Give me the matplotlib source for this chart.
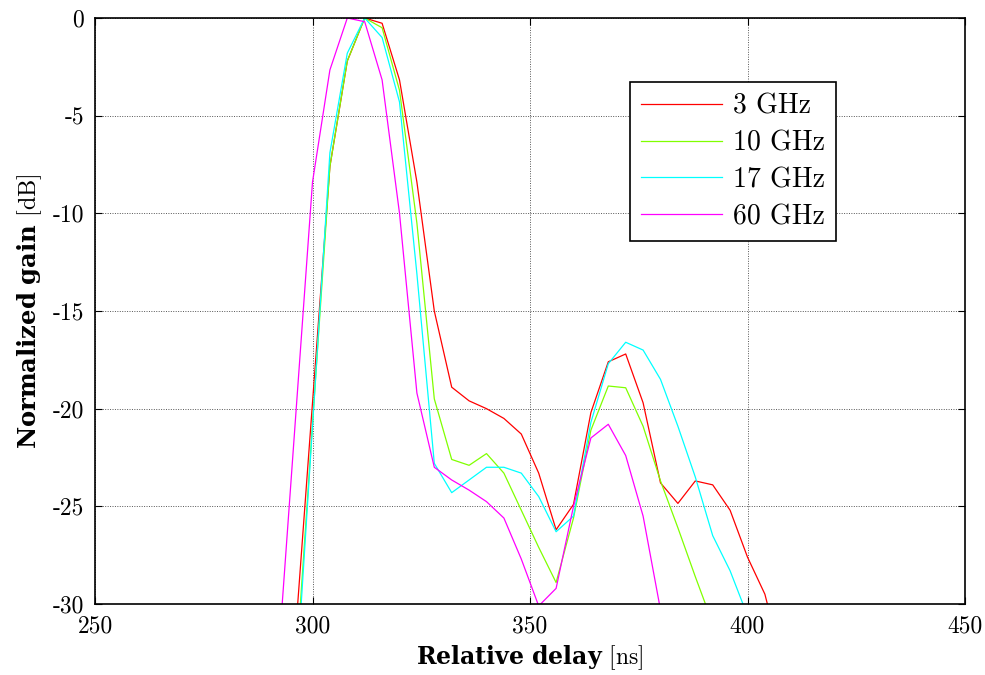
import numpy as np
import matplotlib
matplotlib.use("Agg")
import matplotlib.pyplot as plt

# relative delay [ns], one sample every 4 ns
delay = [292, 296, 300, 304, 308, 312, 316, 320, 324, 328, 332, 336, 340, 344, 348,
         352, 356, 360, 364, 368, 372, 376, 380, 384, 388, 392, 396, 400, 404, 408]

# normalized gain [dB]
gain_3 = [-44.0, -31.8, -19.7, -7.6, -2.2, 0.0, -0.27, -3.17, -8.4, -15.0, -18.9, -19.6, -20.0, -20.5, -21.3,
          -23.3, -26.2, -24.9, -20.2, -17.6, -17.2, -19.7, -23.8, -24.85, -23.7, -23.9, -25.2, -27.6, -29.5, -33.0]
gain_10 = [-47.0, -34.0, -20.8, -7.6, -2.2, 0.0, -0.5, -3.7, -10.5, -19.5, -22.6, -22.9, -22.3, -23.3, -25.2,
           -27.1, -28.9, -25.6, -21.1, -18.84, -18.93, -20.9, -23.7, -26.1, -28.6, -31.0, -34.0, -37.0, -40.0, -43.0]
gain_17 = [-49.0, -34.9, -20.9, -6.9, -1.8, 0.0, -1.0, -4.3, -13.1, -22.8, -24.3, -23.65, -23.0, -23.0, -23.3,
           -24.5, -26.3, -25.5, -20.7, -17.7, -16.6, -17.0, -18.5, -20.9, -23.5, -26.5, -28.3, -30.6, -33.0, -36.0]
gain_60 = [-33.2, -20.8, -8.4, -2.66, 0.0, -0.19, -3.17, -10.0, -19.2, -23.0, -23.65, -24.17, -24.76, -25.6, -27.7,
           -30.1, -29.2, -25.0, -21.5, -20.8, -22.4, -25.5, -30.3, -35.0, -40.0, -45.0, -50.0, -55.0, -60.0, -65.0]

labels = ["3 GHz", "10 GHz", "17 GHz", "60 GHz"]
colors = ["#ff0000", "#80ff00", "#00ffff", "#ff00ff"]

plt.rcParams["font.family"] = ["cmr10", "DejaVu Serif"]
plt.rcParams["mathtext.fontset"] = "custom"
plt.rcParams["mathtext.bf"] = "DejaVu Serif:bold"
plt.rcParams["mathtext.rm"] = "cmr10"
plt.rcParams["axes.unicode_minus"] = False
plt.rcParams["axes.formatter.use_mathtext"] = False

fig = plt.figure(figsize=(9.85, 6.75), dpi=100)
ax = fig.add_axes([95 / 985, 1 - 604 / 675, 870 / 985, 586 / 675])

series = [gain_3, gain_10, gain_17, gain_60]
for i in range(4):
    ax.plot(delay, series[i], color=colors[i], lw=0.9, label=labels[i])

ax.set_xlim(250, 450)
ax.set_ylim(-30, 0)
ax.set_xticks([250, 300, 350, 400, 450])
ax.set_yticks([-30, -25, -20, -15, -10, -5, 0])
ax.grid(True, color="#555555", linestyle=(0, (1, 1.5)), linewidth=0.7)
ax.tick_params(direction="in", length=5, width=0.8, top=True, right=True, labelsize=17, pad=8)
for s in ax.spines.values():
    s.set_linewidth(1.2)

ax.set_xlabel(r"$\mathbf{Relative\ delay}$ [ns]", fontsize=17, labelpad=4)
ax.set_ylabel(r"$\mathbf{Normalized\ gain}$ [dB]", fontsize=17.5, labelpad=6)

leg = ax.legend(loc="upper left", bbox_to_anchor=(535 / 870, (604 - 82) / 586), borderaxespad=0,
                fontsize=20, handlelength=2.9, handletextpad=0.4, labelspacing=0.38, borderpad=0.4,
                fancybox=False, framealpha=1, edgecolor="black")
leg.get_frame().set_linewidth(1.2)

fig.savefig("out.png", dpi=100)
